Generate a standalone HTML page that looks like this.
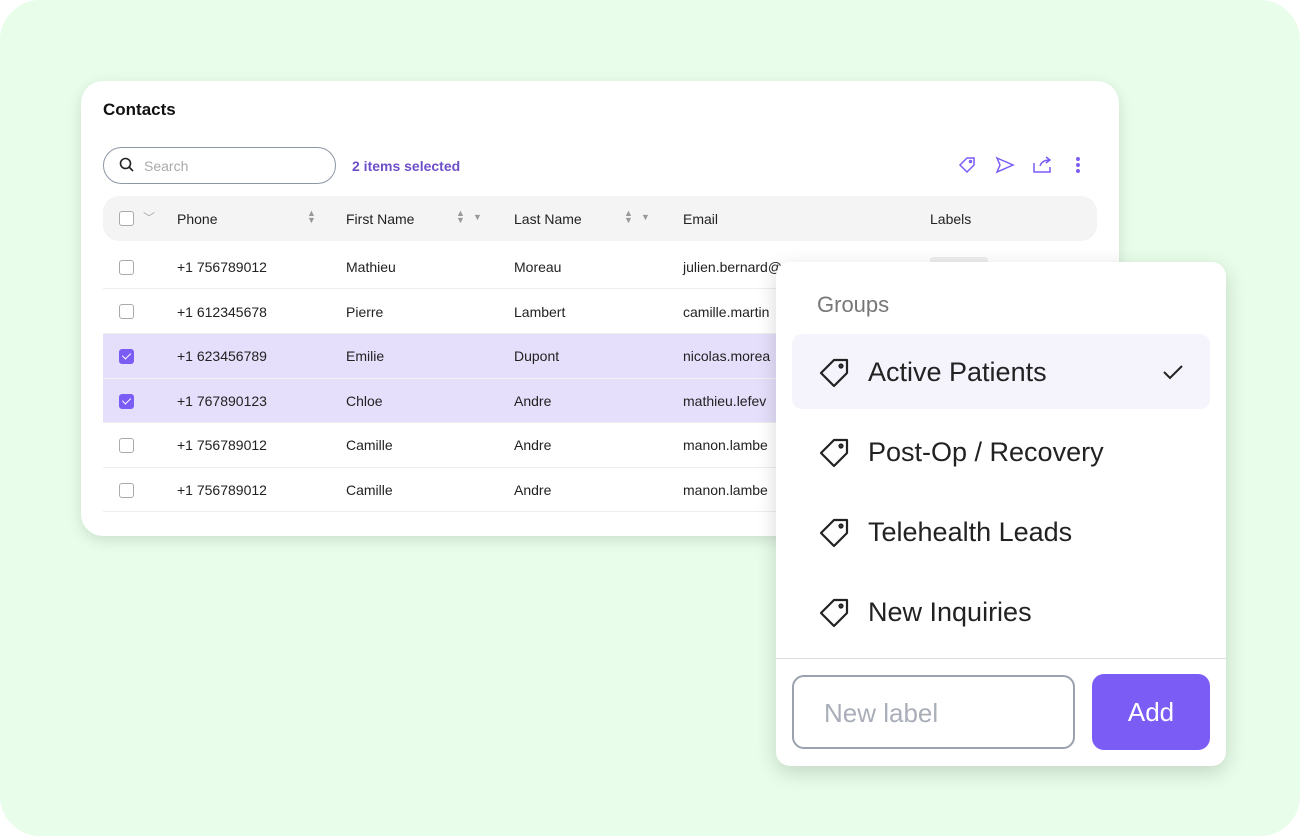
<!DOCTYPE html>
<html><head><style>
*{box-sizing:border-box;margin:0;padding:0}
body{width:1300px;height:836px;background:#fff;font-family:"Liberation Sans",sans-serif;position:relative;overflow:hidden}
.bg{position:absolute;left:0;top:0;width:1300px;height:836px;background:#e8fdea;border-radius:40px}
.card{position:absolute;left:81px;top:81px;width:1038px;height:455px;background:#fff;border-radius:22px;box-shadow:0 4px 14px rgba(0,0,0,.12);overflow:hidden}
.abs{position:absolute}
.t{position:absolute;font-size:14px;color:#222;white-space:nowrap}
.cb{position:absolute;width:15px;height:15px;border:1.5px solid #aaa;border-radius:3px;background:#fff}
.cb.on{background:#7b5cf5;border-color:#7b5cf5}
.cb.on::after{content:"";position:absolute;left:3.5px;top:1px;width:4px;height:7px;border:solid #fff;border-width:0 1.6px 1.6px 0;transform:rotate(45deg)}
.pop{position:absolute;left:776px;top:262px;width:450px;height:504px;background:#fff;border-radius:14px;box-shadow:0 6px 20px rgba(0,0,0,.16)}
.it{position:absolute;left:92px;font-size:27px;color:#222}
.tag{position:absolute;left:42px}
</style></head><body>
<div class="bg"></div>
<div class="card">
 <div class="t" style="left:22px;top:19px;font-size:17px;font-weight:bold;color:#111">Contacts</div>
 <div class="abs" style="left:22px;top:66px;width:233px;height:37px;border:1px solid #8e96a6;border-radius:19px"></div>
 <svg class="abs" style="left:38px;top:76px" width="16" height="16"><circle cx="6.5" cy="6.5" r="5" stroke="#222" stroke-width="1.6" fill="none"/><line x1="10" y1="10" x2="14" y2="14" stroke="#222" stroke-width="1.6"/></svg>
 <div class="t" style="left:63px;top:77px;color:#aaa">Search</div>
 <div class="t" style="left:271px;top:77px;color:#6f4fc9;font-weight:bold">2 items selected</div>
 <svg class="abs" style="left:876px;top:74px" width="130" height="20" fill="none" stroke="#7b5cf5" stroke-width="1.5">
  <path d="M3 10 L10 3 H17 V10 L10 17 Z"/><circle cx="13.5" cy="6.5" r="1"/>
  <path d="M40 3 L56 10 L40 17 L43 10 Z"/>
  <path d="M77 8 V17 H93 V12 M83 11 Q85 5 93 5 M89 2 L93 5 L89 8"/>
  <circle cx="121" cy="4" r="1.2" fill="#7b5cf5"/><circle cx="121" cy="10" r="1.2" fill="#7b5cf5"/><circle cx="121" cy="16" r="1.2" fill="#7b5cf5"/>
 </svg>
 <div class="abs" style="left:22px;top:115px;width:994px;height:45px;background:#f4f4f4;border-radius:16px"></div>
 <div class="cb" style="left:38px;top:130px"></div>
 <div class="t" style="left:62px;top:128px;color:#aaa;font-size:12px">﹀</div>
 <div class="t" style="left:96px;top:130px">Phone</div>
 <div class="t" style="left:226px;top:129px;color:#999;font-size:9px;line-height:7px">▲<br>▼</div>
 <div class="t" style="left:265px;top:130px">First Name</div>
 <div class="t" style="left:375px;top:129px;color:#999;font-size:9px;line-height:7px">▲<br>▼</div>
 <div class="t" style="left:392px;top:131px;color:#999;font-size:9px">▼</div>
 <div class="t" style="left:433px;top:130px">Last Name</div>
 <div class="t" style="left:543px;top:129px;color:#999;font-size:9px;line-height:7px">▲<br>▼</div>
 <div class="t" style="left:560px;top:131px;color:#999;font-size:9px">▼</div>
 <div class="t" style="left:602px;top:130px">Email</div>
 <div class="t" style="left:849px;top:130px">Labels</div>
 <div class="abs" style="left:22px;top:253px;width:1016px;height:89px;background:#e5dffb"></div>
 <div class="abs" style="left:22px;top:207px;width:1016px;height:1px;background:#eee"></div>
 <div class="abs" style="left:22px;top:252px;width:1016px;height:1px;background:#eee"></div>
 <div class="abs" style="left:22px;top:297px;width:1016px;height:1px;background:#f2f2f2"></div>
 <div class="abs" style="left:22px;top:341px;width:1016px;height:1px;background:#eee"></div>
 <div class="abs" style="left:22px;top:386px;width:1016px;height:1px;background:#eee"></div>
 <div class="abs" style="left:22px;top:430px;width:1016px;height:1px;background:#eee"></div>
 <div class="abs" style="left:849px;top:176px;width:58px;height:12px;background:#eee;border-radius:3px"></div>
 <div class="cb" style="left:38px;top:179px"></div><div class="t" style="left:96px;top:178px">+1 756789012</div><div class="t" style="left:265px;top:178px">Mathieu</div><div class="t" style="left:433px;top:178px">Moreau</div><div class="t" style="left:602px;top:178px">julien.bernard@</div>
 <div class="cb" style="left:38px;top:223px"></div><div class="t" style="left:96px;top:223px">+1 612345678</div><div class="t" style="left:265px;top:223px">Pierre</div><div class="t" style="left:433px;top:223px">Lambert</div><div class="t" style="left:602px;top:223px">camille.martin</div>
 <div class="cb on" style="left:38px;top:268px"></div><div class="t" style="left:96px;top:267px">+1 623456789</div><div class="t" style="left:265px;top:267px">Emilie</div><div class="t" style="left:433px;top:267px">Dupont</div><div class="t" style="left:602px;top:267px">nicolas.morea</div>
 <div class="cb on" style="left:38px;top:313px"></div><div class="t" style="left:96px;top:312px">+1 767890123</div><div class="t" style="left:265px;top:312px">Chloe</div><div class="t" style="left:433px;top:312px">Andre</div><div class="t" style="left:602px;top:312px">mathieu.lefev</div>
 <div class="cb" style="left:38px;top:357px"></div><div class="t" style="left:96px;top:356px">+1 756789012</div><div class="t" style="left:265px;top:356px">Camille</div><div class="t" style="left:433px;top:356px">Andre</div><div class="t" style="left:602px;top:356px">manon.lambe</div>
 <div class="cb" style="left:38px;top:402px"></div><div class="t" style="left:96px;top:401px">+1 756789012</div><div class="t" style="left:265px;top:401px">Camille</div><div class="t" style="left:433px;top:401px">Andre</div><div class="t" style="left:602px;top:401px">manon.lambe</div>
</div>
<div class="pop">
 <div class="abs" style="left:41px;top:30px;font-size:22px;color:#777">Groups</div>
 <div class="abs" style="left:16px;top:72px;width:418px;height:75px;background:#f5f4fd;border-radius:10px"></div>
 <svg class="tag" style="top:95px" width="32" height="32" fill="none" stroke="#222" stroke-width="2.2"><path d="M3 16 L16 3 H29 V16 L16 29 Z" stroke-linejoin="round"/><circle cx="23" cy="9" r="1.5"/></svg>
 <div class="it" style="top:95px">Active Patients</div>
 <svg class="abs" style="left:386px;top:101px" width="22" height="18" fill="none" stroke="#222" stroke-width="2"><path d="M2 9 L8 15 L20 3"/></svg>
 <svg class="tag" style="top:175px" width="32" height="32" fill="none" stroke="#222" stroke-width="2.2"><path d="M3 16 L16 3 H29 V16 L16 29 Z" stroke-linejoin="round"/><circle cx="23" cy="9" r="1.5"/></svg>
 <div class="it" style="top:175px">Post-Op / Recovery</div>
 <svg class="tag" style="top:255px" width="32" height="32" fill="none" stroke="#222" stroke-width="2.2"><path d="M3 16 L16 3 H29 V16 L16 29 Z" stroke-linejoin="round"/><circle cx="23" cy="9" r="1.5"/></svg>
 <div class="it" style="top:255px">Telehealth Leads</div>
 <svg class="tag" style="top:335px" width="32" height="32" fill="none" stroke="#222" stroke-width="2.2"><path d="M3 16 L16 3 H29 V16 L16 29 Z" stroke-linejoin="round"/><circle cx="23" cy="9" r="1.5"/></svg>
 <div class="it" style="top:335px">New Inquiries</div>
 <div class="abs" style="left:0;top:396px;width:450px;height:1px;background:#ddd"></div>
 <div class="abs" style="left:16px;top:413px;width:283px;height:74px;border:2px solid #9aa1af;border-radius:12px"></div>
 <div class="abs" style="left:48px;top:436px;font-size:26px;color:#a9aeb8">New label</div>
 <div class="abs" style="left:316px;top:412px;width:118px;height:76px;background:#7b5cf5;border-radius:12px;color:#fff;font-size:26px;text-align:center;line-height:76px">Add</div>
</div>
</body></html>
